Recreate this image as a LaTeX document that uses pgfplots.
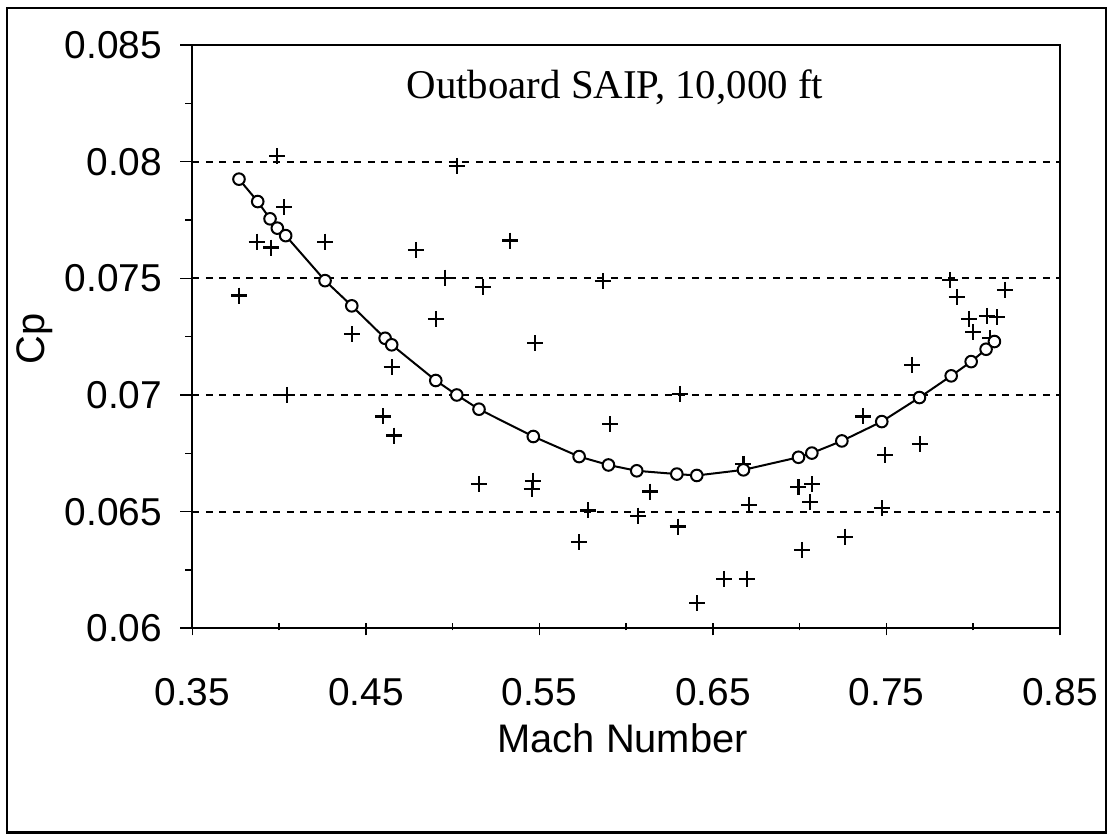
\documentclass[border=0pt]{standalone}
\usepackage{fontspec}
\setmainfont{Liberation Sans}
\newfontfamily\timesf{Liberation Serif}
\usepackage{pgfplots}
\pgfplotsset{compat=1.18}
\begin{document}
\begin{tikzpicture}
\useasboundingbox (0,0) rectangle (1109bp,834bp);
\draw[line width=2.6bp] (7bp,1.5bp) rectangle (1106bp,826bp);
\begin{axis}[
  at={(192.3bp,205.7bp)}, anchor=south west,
  scale only axis, width=867.7bp, height=583.3bp,
  xmin=0.35, xmax=0.85, ymin=0.06, ymax=0.085,
  scaled x ticks=false, scaled y ticks=false,
  xtick={0.35,0.45,0.55,0.65,0.75,0.85},
  xticklabels={0.35,0.45,0.55,0.65,0.75,0.85},
  minor xtick={0.40,0.50,0.60,0.70,0.80},
  ytick={0.06,0.065,0.07,0.075,0.08,0.085},
  yticklabels={0.06,0.065,0.07,0.075,0.08,0.085},
  minor ytick={0.0625,0.0675,0.0725,0.0775,0.0825},
  tick pos=left, tick align=outside,
  major tick length=12bp, minor tick length=7bp,
  every tick/.style={black, line width=1.6bp},
  xtick style={yshift=5bp},
  axis on top,
  axis line style={line width=1.8bp},
  ymajorgrids,
  major grid style={black, line width=2bp, dash pattern=on 7bp off 6.5bp},
  /pgf/number format/assume math mode=true,
  ticklabel style={font=\fontsize{39}{44}\selectfont, inner sep=0pt},
  xticklabel style={anchor=base, yshift=-65bp},
  yticklabel style={anchor=east, xshift=-18bp},
  xlabel={Mach Number},
  ylabel={Cp},
  label style={font=\fontsize{40}{45}\selectfont, inner sep=0pt},
  xlabel style={at={(axis description cs:0.496,0)}, anchor=base, yshift=-123.7bp},
  ylabel style={at={(axis description cs:0,0.496)}, anchor=center, xshift=0bp, yshift=158bp},
  clip=false,
]
\addplot[only marks, mark=+, mark size=8bp, mark options={line width=2.2bp, black}] coordinates {
(0.3990,0.08024) (0.5024,0.07982) (0.4030,0.07805) (0.3871,0.07657) (0.3954,0.07632)
(0.4265,0.07657) (0.4788,0.07622) (0.4956,0.07503) (0.5177,0.07464) (0.3771,0.07426)
(0.4903,0.07326) (0.4419,0.07260) (0.5331,0.07662) (0.5865,0.07489) (0.5475,0.07222)
(0.4649,0.07119) (0.4044,0.07000) (0.4601,0.06908) (0.4663,0.06826) (0.5152,0.06619)
(0.6310,0.07005) (0.5907,0.06875) (0.5462,0.06633) (0.5456,0.06598) (0.6138,0.06586)
(0.6676,0.06705) (0.6710,0.06529) (0.5782,0.06505) (0.6070,0.06483) (0.6297,0.06436)
(0.5728,0.06369) (0.6564,0.06212) (0.6695,0.06212) (0.6410,0.06108) (0.7866,0.07493)
(0.8183,0.07450) (0.7905,0.07419) (0.7977,0.07326) (0.8078,0.07339) (0.8135,0.07333)
(0.8000,0.07269) (0.8097,0.07243) (0.7649,0.07129) (0.7367,0.06908) (0.7492,0.06743)
(0.7693,0.06789) (0.6993,0.06605) (0.7073,0.06618) (0.7060,0.06543) (0.7473,0.06515)
(0.7261,0.06393) (0.7012,0.06336)
};
\addplot[black, line width=2bp, mark=*, mark size=5.8bp, mark options={fill=white, line width=2bp}] coordinates {
(0.3769,0.07925) (0.3877,0.07829) (0.3948,0.07755) (0.3990,0.07715) (0.4038,0.07683)
(0.4265,0.07490) (0.4419,0.07382) (0.4611,0.07243) (0.4649,0.07215) (0.4903,0.07062)
(0.5024,0.07000) (0.5152,0.06939) (0.5465,0.06822) (0.5729,0.06736) (0.5898,0.06700)
(0.6061,0.06675) (0.6292,0.06661) (0.6407,0.06655) (0.6676,0.06679) (0.6993,0.06733)
(0.7070,0.06751) (0.7243,0.06803) (0.7473,0.06886) (0.7690,0.06989) (0.7873,0.07082)
(0.7988,0.07143) (0.8074,0.07196) (0.8122,0.07229)
};
\node[font=\timesf\fontsize{41}{46}\selectfont, anchor=base, inner sep=0pt] at (axis description cs:0.487,0.909) {Outboard SAIP, 10,000 ft};
\end{axis}
\end{tikzpicture}
\end{document}
